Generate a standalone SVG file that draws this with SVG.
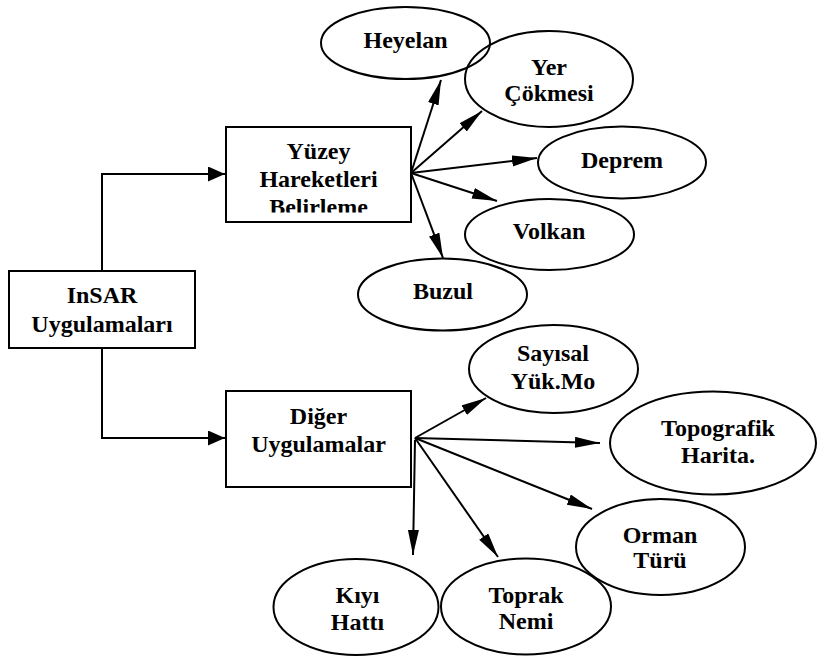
<svg xmlns="http://www.w3.org/2000/svg" width="817" height="657" viewBox="0 0 817 657">
<style>
.box{fill:#fff;stroke:#000;stroke-width:2}
.ell{fill:none;stroke:#000;stroke-width:2}
.t{font-family:"Liberation Serif","Times New Roman",serif;font-weight:bold;font-size:24px;text-anchor:middle;fill:#000}
.c{fill:none;stroke:#000;stroke-width:2}
.ca{marker-end:url(#ah)}
.cb{marker-end:url(#bh)}
</style>
<defs>
<marker id="ah" markerUnits="userSpaceOnUse" markerWidth="26" markerHeight="12" refX="25" refY="5.5" orient="auto"><path d="M0,0 L25,5.5 L0,11 z" fill="#000"/></marker>
<marker id="bh" markerUnits="userSpaceOnUse" markerWidth="17" markerHeight="16" refX="17" refY="7.5" orient="auto"><path d="M0,0 L17,7.5 L0,15 z" fill="#000"/></marker>
<clipPath id="clipY"><rect x="226" y="127" width="185" height="85.5"/></clipPath>
</defs>
<rect width="817" height="657" fill="#fff"/>
<g id="connectors">
<path class="c cb" d="M102,271 V174 H225"/>
<path class="c cb" d="M102,348 V438 H225"/>
<line class="c ca" x1="411" y1="173" x2="441" y2="80"/>
<line class="c ca" x1="411" y1="173" x2="482" y2="111"/>
<line class="c ca" x1="411" y1="173" x2="537" y2="158"/>
<line class="c ca" x1="411" y1="173" x2="497" y2="201"/>
<line class="c ca" x1="411" y1="173" x2="443" y2="258"/>
<line class="c ca" x1="415" y1="438" x2="486" y2="398"/>
<line class="c ca" x1="415" y1="438" x2="600" y2="443"/>
<line class="c ca" x1="415" y1="438" x2="592" y2="509"/>
<line class="c ca" x1="415" y1="438" x2="498" y2="557"/>
<line class="c ca" x1="415" y1="440" x2="413" y2="555"/>
</g>
<g id="insar">
<rect class="box" x="9" y="271" width="186" height="77"/>
<text class="t" x="102" y="303">InSAR</text>
<text class="t" x="102" y="332">Uygulamaları</text>
</g>
<g id="yuzey">
<rect class="box" x="226" y="127" width="185" height="95"/>
<g clip-path="url(#clipY)">
<text class="t" x="318.5" y="159">Yüzey</text>
<text class="t" x="318.5" y="187">Hareketleri</text>
<text class="t" x="318.5" y="215">Belirleme</text>
</g>
</g>
<g id="diger">
<rect class="box" x="226" y="391" width="185" height="96"/>
<text class="t" x="318.5" y="424">Diğer</text>
<text class="t" x="318.5" y="452">Uygulamalar</text>
</g>
<g id="heyelan">
<ellipse class="ell" cx="405.5" cy="43" rx="84.5" ry="36"/>
<text class="t" x="405.5" y="48">Heyelan</text>
</g>
<g id="yer">
<ellipse class="ell" cx="549" cy="79" rx="84" ry="48"/>
<text class="t" x="549" y="75">Yer</text>
<text class="t" x="549" y="101">Çökmesi</text>
</g>
<g id="deprem">
<ellipse class="ell" cx="622" cy="162.5" rx="84" ry="36"/>
<text class="t" x="622" y="168">Deprem</text>
</g>
<g id="volkan">
<ellipse class="ell" cx="549.5" cy="234.5" rx="84.5" ry="35.5"/>
<text class="t" x="549" y="239">Volkan</text>
</g>
<g id="buzul">
<ellipse class="ell" cx="442.5" cy="294.5" rx="84.5" ry="36"/>
<text class="t" x="443" y="299">Buzul</text>
</g>
<g id="sayisal">
<ellipse class="ell" cx="553.5" cy="369" rx="84.5" ry="44"/>
<text class="t" x="553" y="361">Sayısal</text>
<text class="t" x="553" y="389">Yük.Mo</text>
</g>
<g id="topografik">
<ellipse class="ell" cx="713" cy="443" rx="103" ry="51.5"/>
<text class="t" x="718" y="436">Topografik</text>
<text class="t" x="718" y="463">Harita.</text>
</g>
<g id="orman">
<ellipse class="ell" cx="660.5" cy="547" rx="84.5" ry="48"/>
<text class="t" x="660" y="543">Orman</text>
<text class="t" x="660" y="568">Türü</text>
</g>
<g id="toprak">
<ellipse class="ell" cx="526" cy="606.5" rx="85" ry="48"/>
<text class="t" x="526" y="603">Toprak</text>
<text class="t" x="526" y="629">Nemi</text>
</g>
<g id="kiyi">
<ellipse class="ell" cx="356" cy="607" rx="82.5" ry="48"/>
<text class="t" x="357.5" y="603">Kıyı</text>
<text class="t" x="357.5" y="630">Hattı</text>
</g>
</svg>
